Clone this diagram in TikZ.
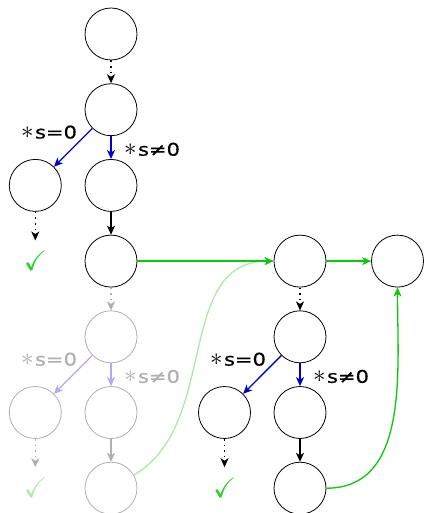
\documentclass[tikz,border=0pt]{standalone}
\usepackage{amssymb}
\usepackage{graphicx}
\usepackage{fontspec}
\newfontfamily\lblfont[FakeStretch=1.2,FakeBold=0.6]{DejaVu Sans}
\usetikzlibrary{arrows.meta}
\definecolor{myblue}{RGB}{0,0,205}
\definecolor{mygreen}{RGB}{10,200,10}
\definecolor{chkgreen}{RGB}{40,210,40}
\definecolor{fadegray}{RGB}{175,175,175}
\definecolor{fadeblue}{RGB}{172,172,240}
\definecolor{fadegreen}{RGB}{172,232,172}
\definecolor{fadechk}{RGB}{172,236,172}
\newcommand\myast{\scalebox{1.45}{$\ast$}\kern1.5pt}
\tikzset{
  state/.style={circle, draw, minimum size=52pt, inner sep=0pt, line width=0.8pt},
  fstate/.style={state, draw=fadegray},
  arr/.style={-{Stealth[length=9pt,width=8pt,inset=2.5pt]}, line width=1.3pt},
  dotarr/.style={arr, dash pattern=on 1.6pt off 4pt},
  lbl/.style={font=\lblfont\fontsize{17.5}{20}\selectfont, anchor=base, inner sep=0pt},
  chk/.style={font=\fontsize{28}{28}\selectfont, text=chkgreen, inner sep=0pt},
}
\begin{document}
\begin{tikzpicture}[x=1pt,y=1pt]
\useasboundingbox (0,0) rectangle (423,-513);
% block 1
\node[state] (A) at (111,-34) {};
\node[state] (B) at (111,-109.7) {};
\node[state] (C) at (35.3,-185.4) {};
\node[state] (D) at (111,-185.4) {};
\node[chk] (chk1) at (35.5,-261.1) {$\checkmark$};
\coordinate (c1) at (35.3,-240.5);
\node[state] (E) at (111,-261.1) {};
\node[state] (F) at (300,-261.1) {};
\node[state] (G) at (397.5,-261.1) {};
\node[lbl] (l1) at (49,-138.5) {\myast s=0};
\node[lbl] (r1) at (152,-155.7) {\myast s≠0};
% faded block
\node[fstate] (H) at (111,-336.8) {};
\node[fstate] (I) at (35.3,-412.5) {};
\node[fstate] (J) at (111,-412.5) {};
\node[chk, text=fadechk] (chk2) at (35.5,-488.2) {$\checkmark$};
\coordinate (c2) at (35.3,-467.2);
\node[fstate] (K) at (111,-488.2) {};
\node[lbl, text=fadegray] (l2) at (49,-365.6) {\myast s=0};
\node[lbl, text=fadegray] (r2) at (152,-382.8) {\myast s≠0};
% block 3
\node[state] (L) at (300,-336.8) {};
\node[state] (M) at (224.5,-412.5) {};
\node[state] (N) at (300,-412.5) {};
\node[chk] (chk3) at (224.7,-488.2) {$\checkmark$};
\coordinate (c3) at (224.5,-467.2);
\node[state] (O) at (300,-488.2) {};
\node[lbl] (l3) at (238,-365.6) {\myast s=0};
\node[lbl] (r3) at (341,-382.8) {\myast s≠0};
% connectors block 1
\draw[dotarr] (A) -- (B);
\draw[arr, myblue] (B) -- (C);
\draw[arr, myblue] (B) -- (D);
\draw[dotarr] (C) -- (c1);
\draw[arr] (D) -- (E);
% faded connectors
\draw[dotarr, fadegray] (E) -- (H);
\draw[arr, fadeblue] (H) -- (I);
\draw[arr, fadeblue] (H) -- (J);
\draw[dotarr, fadegray] (I) -- (c2);
\draw[arr, fadegray] (J) -- (K);
\draw[arr, fadegreen] (K) to[out=30,in=180] (F);
% green
\draw[arr, mygreen] (E) -- (F);
\draw[arr, mygreen] (F) -- (G);
\draw[arr, mygreen] (O) to[out=0,in=-90] (G);
% block 3 connectors
\draw[dotarr] (F) -- (L);
\draw[arr, myblue] (L) -- (M);
\draw[arr, myblue] (L) -- (N);
\draw[dotarr] (M) -- (c3);
\draw[arr] (N) -- (O);
\end{tikzpicture}
\end{document}
